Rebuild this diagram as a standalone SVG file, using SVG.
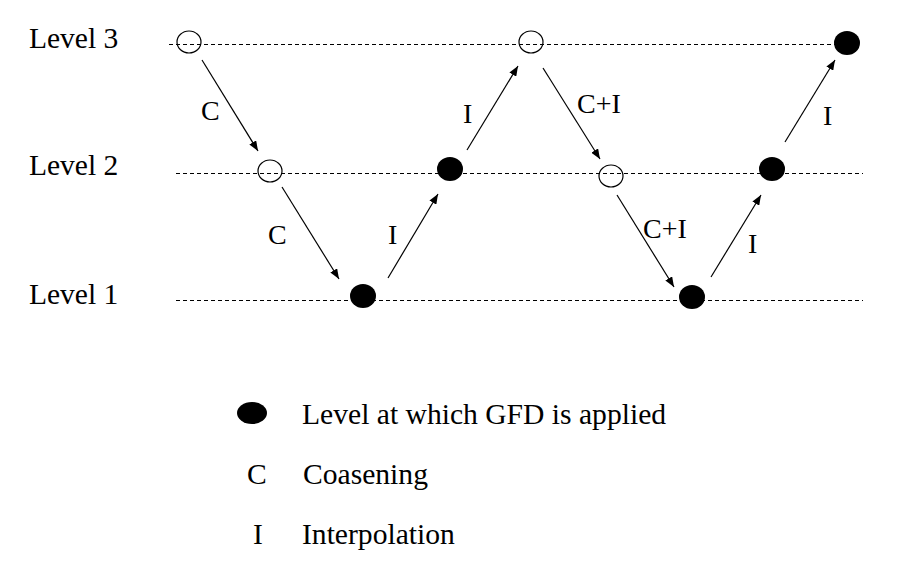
<svg xmlns="http://www.w3.org/2000/svg" width="897" height="585" viewBox="0 0 897 585">
<style>
text{font-family:'Liberation Serif','Times New Roman',Times,serif;fill:#000}
.lvl{font-size:29.5px}
.lab{font-size:28px}
.leg{font-size:29.6px}
.dash{stroke:#000;stroke-width:1;stroke-dasharray:4 3;fill:none}
.open{fill:none;stroke:#000;stroke-width:1.2}
.full{fill:#000}
.arr{stroke:#000;stroke-width:1.2;fill:none;marker-end:url(#ah)}
</style>
<defs>
<marker id="ah" viewBox="0 0 10 8" refX="10" refY="4" markerWidth="10" markerHeight="8" markerUnits="userSpaceOnUse" orient="auto">
<path d="M0,0 L10,4 L0,8 Z" fill="#000"/>
</marker>
</defs>
<g id="levels">
<line class="dash" x1="169" y1="44.5" x2="840" y2="44.5"/>
<line class="dash" x1="176" y1="173.5" x2="863" y2="173.5"/>
<line class="dash" x1="176" y1="300.5" x2="863" y2="300.5"/>
<text class="lvl" x="29" y="48">Level 3</text>
<text class="lvl" x="29" y="175">Level 2</text>
<text class="lvl" x="29" y="304">Level 1</text>
</g>
<g id="n1"><ellipse class="open" cx="189" cy="42" rx="12" ry="11"/></g>
<g id="n2"><ellipse class="open" cx="270" cy="171" rx="12" ry="11"/></g>
<g id="n3"><ellipse class="full" cx="363" cy="296" rx="13" ry="12"/></g>
<g id="n4"><ellipse class="full" cx="450" cy="169" rx="13" ry="12"/></g>
<g id="n5"><ellipse class="open" cx="531" cy="42" rx="12" ry="11"/></g>
<g id="n6"><ellipse class="open" cx="611" cy="176" rx="12" ry="11"/></g>
<g id="n7"><ellipse class="full" cx="692" cy="297" rx="13" ry="12"/></g>
<g id="n8"><ellipse class="full" cx="772" cy="169" rx="13" ry="12"/></g>
<g id="n9"><ellipse class="full" cx="847" cy="43" rx="13" ry="12"/></g>
<g id="connectors">
<line class="arr" x1="202" y1="60" x2="258" y2="151"/>
<line class="arr" x1="282" y1="187" x2="339" y2="279"/>
<line class="arr" x1="388" y1="278" x2="438" y2="194"/>
<line class="arr" x1="467" y1="150" x2="518" y2="66"/>
<line class="arr" x1="543" y1="68" x2="600" y2="159"/>
<line class="arr" x1="617" y1="195" x2="674" y2="287"/>
<line class="arr" x1="711" y1="277" x2="761" y2="195"/>
<line class="arr" x1="785" y1="142" x2="835" y2="60"/>
<text class="lab" x="201" y="120">C</text>
<text class="lab" x="268" y="244">C</text>
<text class="lab" x="388" y="244">I</text>
<text class="lab" x="463" y="123">I</text>
<text class="lab" x="577" y="113">C+I</text>
<text class="lab" x="643" y="238">C+I</text>
<text class="lab" x="748" y="253">I</text>
<text class="lab" x="823" y="125">I</text>
</g>
<g id="legend">
<ellipse class="full" cx="252" cy="413" rx="15" ry="11"/>
<text class="leg" x="302" y="424">Level at which GFD is applied</text>
<text class="leg" x="247" y="484">C</text>
<text class="leg" x="303" y="484">Coasening</text>
<text class="leg" x="253" y="544">I</text>
<text class="leg" x="302" y="544">Interpolation</text>
</g>
</svg>
